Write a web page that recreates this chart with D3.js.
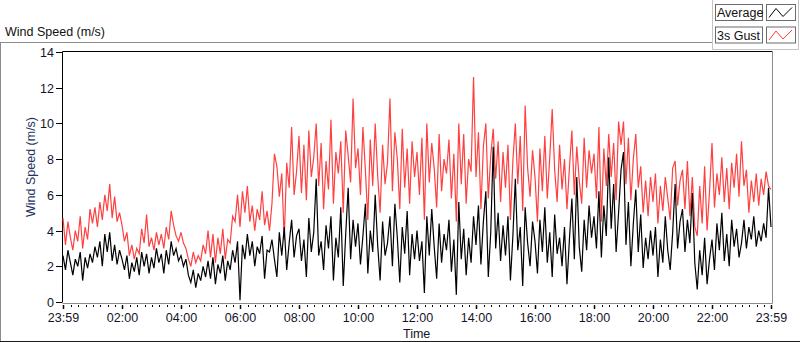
<!DOCTYPE html>
<html>
<head>
<meta charset="utf-8">
<script src="https://cdn.jsdelivr.net/npm/d3@7"></script>
<style>
  body { margin: 0; background: #fff; }
  svg { display: block; font-family: "Liberation Sans", Arial, sans-serif; }
</style>
</head>
<body>
<svg id="chart" width="800" height="342"></svg>
<script>
"use strict";

// one sample every 5 minutes, starting 23:59 (12 per hour), last value = 23:59 next day
const average = [
  2.6,1.8,2.9,2.2,1.5,2.4,2.0,2.8,1.2,2.5,1.9,2.7,
  2.2,3.1,2.5,3.4,2.0,3.8,2.8,3.9,2.3,3.2,2.1,2.9,
  2.4,1.8,2.6,1.3,2.2,1.7,2.5,1.5,2.8,2.0,2.7,1.6,
  2.5,1.9,3.0,2.2,2.7,1.6,2.9,2.1,3.4,2.6,3.0,2.3,
  2.6,2.0,2.4,1.5,1.1,1.8,0.8,1.6,1.2,2.0,1.4,2.3,
  1.3,2.5,1.0,2.1,1.6,2.6,1.2,2.3,1.8,2.9,2.2,3.4,
  0.1,3.2,2.4,3.8,2.6,3.4,2.0,3.1,2.7,3.7,1.3,2.9,
  2.8,3.5,2.4,1.4,3.9,2.6,4.2,1.8,3.3,4.6,2.5,3.7,
  4.1,2.3,3.5,1.4,4.7,2.8,3.9,6.9,2.6,3.4,1.8,4.3,
  3.0,4.8,1.2,3.6,2.5,5.3,0.9,3.8,6.4,2.4,4.6,3.1,
  4.4,2.1,3.7,5.5,1.6,4.0,2.8,6.0,3.2,1.2,4.5,2.6,
  3.3,4.8,2.0,5.5,3.6,1.1,4.2,2.7,5.1,1.5,3.8,2.4,
  4.0,2.3,3.4,0.5,4.8,2.6,5.2,3.1,1.3,4.4,2.2,3.8,
  2.9,4.6,1.7,3.5,0.4,5.6,2.4,4.1,1.5,3.6,2.2,4.8,
  3.2,5.4,2.1,4.5,6.2,1.4,3.9,8.7,3.0,5.0,2.3,4.3,
  2.6,4.8,1.2,3.7,6.9,2.9,4.2,0.9,5.3,3.3,2.0,4.5,
  3.4,1.6,4.6,2.8,5.3,2.2,3.9,1.4,4.9,2.7,3.6,2.0,
  4.2,1.0,3.5,5.8,2.4,7.0,3.1,1.7,4.6,2.9,5.4,3.6,
  4.8,3.0,6.2,2.5,5.4,3.7,8.1,4.1,6.6,2.8,5.0,7.4,
  8.4,3.2,5.6,2.0,4.4,6.3,2.8,4.9,1.9,3.6,2.4,4.0,
  2.6,4.2,1.4,3.5,2.2,4.8,2.9,1.8,3.9,6.6,3.0,4.5,
  5.2,2.8,4.6,3.3,6.1,2.2,0.7,2.9,1.5,3.6,1.0,2.4,
  3.5,1.8,4.4,2.9,5.0,2.3,3.8,2.0,4.6,3.1,4.1,2.5,
  3.3,4.6,3.0,4.2,3.5,4.8,3.1,4.0,3.4,4.4,3.6,6.4,
  4.2
];

const gust = [
  4.7,3.2,4.5,3.6,2.9,4.0,3.4,4.8,3.0,4.2,3.5,5.2,
  4.4,5.3,4.2,5.6,4.6,6.0,5.1,6.6,4.7,5.9,4.5,5.0,
  4.3,3.4,3.9,2.6,3.2,2.4,3.0,2.7,4.1,3.3,4.9,3.1,
  3.6,2.9,3.9,3.2,3.8,3.0,4.2,3.5,5.1,4.3,3.7,3.4,
  3.9,3.3,3.0,2.4,2.0,2.8,2.2,2.6,2.3,3.2,2.7,4.0,
  2.5,3.8,2.2,3.6,2.7,4.1,2.4,3.5,3.3,4.8,4.5,6.0,
  4.2,6.2,5.0,6.5,4.5,5.4,4.0,5.2,4.6,6.2,4.3,5.1,
  4.0,5.5,8.3,7.6,5.9,7.2,3.5,7.8,6.4,9.8,6.0,7.3,
  9.3,6.1,8.8,5.7,9.6,7.0,8.1,10.0,6.5,8.9,5.2,7.9,
  6.3,10.2,5.5,8.4,7.2,9.0,5.0,9.6,8.2,6.7,11.4,7.5,
  8.6,6.0,9.8,7.4,4.6,9.1,6.5,10.0,7.1,5.0,8.8,6.6,
  7.8,11.4,6.2,9.5,8.0,5.2,9.7,6.4,8.6,5.5,9.0,7.0,
  8.4,6.0,9.2,4.6,10.0,6.7,8.9,7.5,5.3,9.4,6.2,8.0,
  7.2,9.1,5.8,8.3,4.5,10.0,6.6,9.4,5.5,8.0,7.3,12.6,
  7.0,9.5,5.2,8.7,10.0,5.8,8.2,9.7,6.9,9.0,5.6,8.4,
  6.4,8.8,4.6,7.9,10.0,6.6,9.3,5.1,11.0,7.5,5.9,8.5,
  7.0,4.5,8.6,6.2,9.3,5.8,8.1,10.8,7.4,5.6,8.8,6.3,
  8.0,5.2,7.5,9.6,6.0,8.7,6.8,5.5,9.2,6.4,8.5,7.2,
  8.3,5.8,9.8,4.5,8.6,6.5,9.4,7.0,8.9,5.7,10.1,8.8,
  10.1,6.6,9.2,5.7,8.0,9.4,6.4,7.6,5.0,6.8,4.8,7.0,
  5.6,7.2,4.4,6.5,5.1,7.0,5.8,4.6,7.5,7.9,5.4,6.8,
  7.4,5.2,7.9,4.8,7.0,4.2,3.7,6.5,4.4,7.6,4.0,6.2,
  8.9,5.3,7.2,6.0,8.1,5.6,7.5,5.2,7.8,6.4,8.3,5.9,
  9.0,6.5,7.4,5.0,6.8,5.6,7.2,5.4,6.9,6.0,7.3,6.5,
  6.3
];

const yTicks = [0, 2, 4, 6, 8, 10, 12, 14];
const xLabelHours = [2, 4, 6, 8, 10, 12, 14, 16, 18, 20, 22];
const legendItems = [
  {name: "Average", color: "#000000"},
  {name: "3s Gust", color: "#ff4040"}
];

const t0 = new Date(2020, 0, 1, 23, 59);
const t1 = new Date(2020, 0, 2, 23, 59);
const stepMs = 5 * 60 * 1000;
const timeAt = i => i === average.length - 1 ? t1 : new Date(t0.getTime() + i * stepMs);

const svg = d3.select("#chart");
const plot = {left: 63, right: 771, top: 52, bottom: 302};

const x = d3.scaleTime().domain([t0, t1]).range([plot.left, plot.right]);
const y = d3.scaleLinear().domain([0, 14]).range([plot.bottom, plot.top]);

// outer panel lines
svg.append("line").attr("x1", 0).attr("x2", 712).attr("y1", 42.5).attr("y2", 42.5)
  .attr("stroke", "#8c8c8c");
svg.append("line").attr("x1", 0.5).attr("x2", 0.5).attr("y1", 42).attr("y2", 342)
  .attr("stroke", "#8c8c8c");
svg.append("line").attr("x1", 0).attr("x2", 800).attr("y1", 341.5).attr("y2", 341.5)
  .attr("stroke", "#1a1a1a");

svg.append("text").attr("x", 5).attr("y", 36)
  .attr("font-size", 12.5).attr("fill", "#111").text("Wind Speed (m/s)");

// legend panel
const lg = svg.append("g");
lg.append("path").attr("d", "M712.5,0 V49.5 H798.5 V0")
  .attr("fill", "none").attr("stroke", "#c4c4c4");
legendItems.forEach((d, i) => {
  let top = 4.5 + i * 22.5;
  let row = lg.append("g");
  row.append("rect").attr("x", 715.5).attr("y", top).attr("width", 47).attr("height", 16)
    .attr("fill", "#fff").attr("stroke", "#6b6b6b");
  row.append("text").attr("x", 717).attr("y", top + 12.5)
    .attr("font-size", 12.5).attr("fill", "#111").text(d.name);
  row.append("rect").attr("x", 766.5).attr("y", top).attr("width", 29).attr("height", 16)
    .attr("fill", "#fff").attr("stroke", "#6b6b6b");
  row.append("path")
    .attr("d", d3.line()([[769, top + 13], [776, top + 4], [783, top + 12], [792, top + 3]]))
    .attr("fill", "none").attr("stroke", d.color);
});

// plot frame
svg.append("rect").attr("x", plot.left - 0.5).attr("y", plot.top - 0.5)
  .attr("width", plot.right - plot.left + 1).attr("height", plot.bottom - plot.top + 1)
  .attr("fill", "#fff");
svg.append("path")
  .attr("d", `M${plot.left - 0.5},${plot.bottom + 0.5} V${plot.top - 0.5} H${plot.right + 1.5}`)
  .attr("fill", "none").attr("stroke", "#000");
svg.append("path")
  .attr("d", `M${plot.right + 1.5},${plot.top - 0.5} V${plot.bottom + 1.5} H${plot.left - 0.5}`)
  .attr("fill", "none").attr("stroke", "#8c8c8c");

// series, average on top
const line = d3.line()
  .x((d, i) => x(timeAt(i)))
  .y(d => y(d));

const g = svg.append("g");
g.append("path").datum(gust).attr("d", line)
  .attr("fill", "none").attr("stroke", legendItems[1].color).attr("stroke-width", 1.2);
g.append("path").datum(average).attr("d", line)
  .attr("fill", "none").attr("stroke", legendItems[0].color).attr("stroke-width", 1.2);

// y axis
const yAxis = svg.append("g").attr("font-size", 12.5).attr("fill", "#14142a");
yTicks.forEach(v => {
  let py = Math.round(y(v)) + 0.5;
  yAxis.append("line").attr("x1", 56).attr("x2", plot.left - 1).attr("y1", py).attr("y2", py)
    .attr("stroke", "#000");
  yAxis.append("text").attr("x", 54).attr("y", py + 4.5)
    .attr("text-anchor", "end").text(v);
});
svg.append("text")
  .attr("transform", `translate(35,${(plot.top + plot.bottom) / 2 - 10}) rotate(-90)`)
  .attr("text-anchor", "middle").attr("font-size", 12.5).attr("fill", "#1e3560")
  .text("Wind Speed (m/s)");

// x axis: minor ticks every 15 min, labelled ticks every 2 h
const xAxis = svg.append("g");
const minor = d3.timeMinute.every(15).range(t0, t1)
  .filter(t => !(t.getMinutes() === 0 && t.getHours() % 2 === 0));
minor.forEach(t => {
  let px = Math.round(x(t)) + 0.5;
  xAxis.append("line").attr("x1", px).attr("x2", px).attr("y1", 305).attr("y2", 307)
    .attr("stroke", "#000");
});
const major = [t0].concat(xLabelHours.map(h => new Date(2020, 0, 2, h, 0)), [t1]);
major.forEach(t => {
  let px = Math.round(x(t)) + 0.5;
  xAxis.append("line").attr("x1", px).attr("x2", px).attr("y1", 305).attr("y2", 309)
    .attr("stroke", "#000").attr("stroke-width", 1.5);
  xAxis.append("text").attr("x", px).attr("y", 322)
    .attr("text-anchor", "middle").attr("font-size", 12.5).attr("fill", "#14142a")
    .text(d3.timeFormat("%H:%M")(t));
});
svg.append("text").attr("x", 403).attr("y", 338)
  .attr("font-size", 12.5).attr("fill", "#14142a").text("Time");
</script>
</body>
</html>
